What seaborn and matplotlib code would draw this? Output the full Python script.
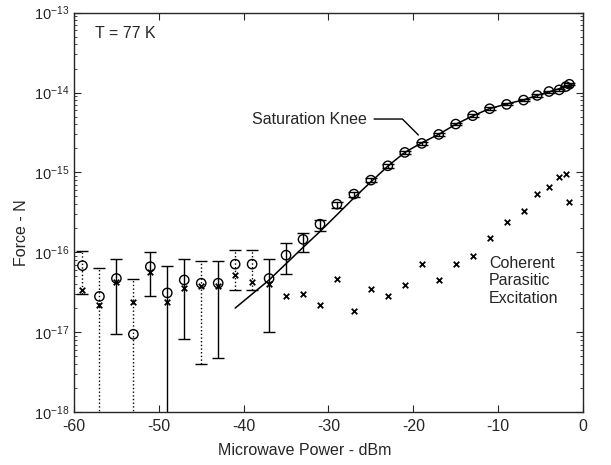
import numpy as np
import pandas as pd
import matplotlib
matplotlib.use("Agg")
import matplotlib.pyplot as plt
import matplotlib.ticker as mticker
import seaborn as sns

# measured response (circles) with error bars
power = [-59, -57, -55, -53, -51, -49, -47, -45, -43, -41, -39, -37, -35, -33, -31, -29,
         -27, -25, -23, -21, -19, -17, -15, -13, -11, -9, -7, -5.4, -4, -2.8, -2, -1.6]
force = [6.8e-17, 2.8e-17, 4.7e-17, 9.4e-18, 6.6e-17, 3.1e-17, 4.5e-17, 4.1e-17, 4.1e-17,
         7.1e-17, 7.1e-17, 4.7e-17, 9.2e-17, 1.45e-16, 2.25e-16, 4.0e-16, 5.35e-16, 8.0e-16,
         1.21e-15, 1.78e-15, 2.31e-15, 2.99e-15, 4.03e-15, 5.13e-15, 6.27e-15, 7.11e-15,
         8.05e-15, 9.2e-15, 1.03e-14, 1.08e-14, 1.19e-14, 1.27e-14]
force_hi = [1.04e-16, 6.4e-17, 8.3e-17, 4.6e-17, 1.01e-16, 6.8e-17, 8.2e-17, 7.8e-17, 7.8e-17,
            1.08e-16, 1.06e-16, 8.3e-17, 1.29e-16, 1.75e-16, 2.52e-16, 4.3e-16, 5.7e-16, 8.5e-16,
            1.28e-15, 1.87e-15, 2.42e-15, 3.12e-15, 4.2e-15, 5.33e-15, 6.5e-15, 7.35e-15,
            8.3e-15, 9.5e-15, 1.06e-14, 1.11e-14, 1.22e-14, 1.30e-14]
force_lo = [3.0e-17, 1e-19, 9.6e-18, 1e-19, 2.8e-17, 1e-19, 8.1e-18, 3.95e-18, 4.75e-18,
            3.4e-17, 3.35e-17, 1.0e-17, 5.4e-17, 1.01e-16, 1.86e-16, 3.6e-16, 4.94e-16, 7.5e-16,
            1.14e-15, 1.7e-15, 2.2e-15, 2.87e-15, 3.87e-15, 4.93e-15, 6.05e-15, 6.9e-15,
            7.8e-15, 8.9e-15, 1.0e-14, 1.05e-14, 1.16e-14, 1.24e-14]
# bars that look dotted in the scan
dotted = [-59, -57, -53, -45, -41, -39]

# coherent parasitic excitation (x markers)
parasitic = [3.4e-17, 2.2e-17, 4.3e-17, 2.4e-17, 5.7e-17, 2.4e-17, 3.6e-17, 3.8e-17, 3.8e-17,
             5.2e-17, 4.3e-17, 4.0e-17, 2.85e-17, 3.0e-17, 2.2e-17, 4.6e-17, 1.85e-17, 3.5e-17,
             2.85e-17, 3.9e-17, 7.1e-17, 4.5e-17, 7.2e-17, 9.1e-17, 1.52e-16, 2.36e-16,
             3.3e-16, 5.4e-16, 6.5e-16, 8.8e-16, 9.5e-16, 4.3e-16]

# fitted curve
fit_power = [-41, -39, -37, -35, -33, -31, -29, -27, -25, -23, -21, -19, -17, -15, -13, -11,
             -9, -7, -5, -3, -1.1]
fit_force = [2.0e-17, 3.0e-17, 4.5e-17, 7.2e-17, 1.15e-16, 1.82e-16, 2.95e-16, 4.8e-16,
             7.6e-16, 1.2e-15, 1.78e-15, 2.35e-15, 3.0e-15, 4.0e-15, 5.1e-15, 6.3e-15,
             7.2e-15, 8.1e-15, 9.5e-15, 1.1e-14, 1.3e-14]

x_ticks = [-60, -50, -40, -30, -20, -10, 0]
y_ticks = [1e-18, 1e-17, 1e-16, 1e-15, 1e-14, 1e-13]

sns.set_style("ticks")
plt.rcParams['font.family'] = ['Liberation Sans', 'DejaVu Sans']
plt.rcParams['axes.unicode_minus'] = False
plt.rcParams['font.size'] = 11.5

df = pd.DataFrame({"power": power, "force": force, "hi": force_hi, "lo": force_lo,
                   "par": parasitic})
fit = pd.DataFrame({"power": fit_power, "force": fit_force})

fig = plt.figure(figsize=(6.11, 4.65), dpi=100)
ax = fig.add_axes([0.1211, 0.114, 0.833, 0.8587])
ax.set_yscale("log")

for dot in [False, True]:
    sub = df[df["power"].isin(dotted) == dot]
    eb = ax.errorbar(sub["power"], sub["force"],
                     yerr=[sub["force"] - sub["lo"], sub["hi"] - sub["force"]],
                     fmt="none", ecolor="black", elinewidth=1.0, capsize=4.5, capthick=1.0)
    if dot:
        eb[2][0].set_linestyle(":")

sns.lineplot(data=fit, x="power", y="force", color="black", linewidth=1.1, ax=ax)
sns.scatterplot(data=df, x="power", y="force", marker="o", s=45, facecolor="none",
                edgecolor="black", linewidth=1.0, ax=ax, zorder=3)
sns.scatterplot(data=df, x="power", y="par", marker="x", s=16, color="black",
                linewidth=1.3, ax=ax, zorder=3)

ax.set_xlim(-60, 0)
ax.set_ylim(1e-18, 1e-13)
ax.set_xticks(x_ticks)
ax.set_yticks(y_ticks)
ax.yaxis.set_minor_locator(mticker.LogLocator(base=10, subs=np.arange(2, 10)))
ax.yaxis.set_minor_formatter(mticker.NullFormatter())
ax.tick_params(which="both", direction="in", top=True, right=True)
ax.tick_params(axis="x", labelsize=11.5, pad=5)
ax.tick_params(axis="y", labelsize=10.5)
ax.tick_params(which="major", length=5)
ax.tick_params(which="minor", length=2.5)
for s in ax.spines.values():
    s.set_linewidth(1.0)

ax.set_xlabel("Microwave Power - dBm", fontsize=11.5)
ax.set_ylabel("Force - N", fontsize=11.5)
ax.xaxis.set_label_coords(0.454, -0.078)
ax.yaxis.set_label_coords(-0.088, 0.45)

ax.text(0.041, 0.948, "T = 77 K", transform=ax.transAxes, ha="left", va="center",
        fontsize=11.5)
ax.annotate("Saturation Knee", xy=(-19.4, 2.94e-15), xytext=(-25.5, 4.66e-15),
            ha="right", va="center", fontsize=11.5,
            arrowprops=dict(arrowstyle="-", color="black", lw=1.0, relpos=(1, 0.5),
                            shrinkA=3, shrinkB=0,
                            connectionstyle="angle,angleA=0,angleB=135,rad=0"))
ax.text(-11.1, 4.4e-17, "Coherent\nParasitic\nExcitation", ha="left", va="center",
        fontsize=11.5, linespacing=1.2)

fig.savefig("out.png", dpi=100)
